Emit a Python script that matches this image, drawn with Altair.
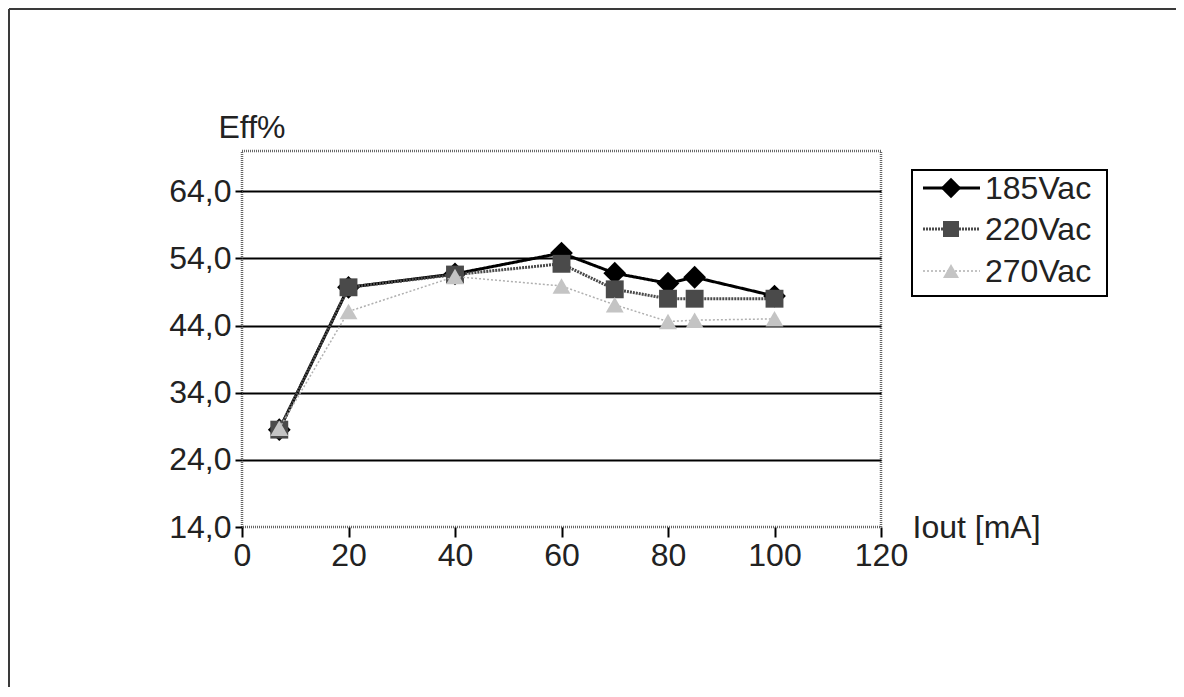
import altair as alt
import pandas as pd

# ---- data ----
iout = [7, 20, 40, 60, 70, 80, 85, 100]
eff_185 = [28.5, 49.7, 51.7, 54.8, 51.8, 50.3, 51.2, 48.4]
eff_220 = [28.5, 49.7, 51.6, 53.2, 49.4, 48.0, 48.0, 48.0]
eff_270 = [28.7, 46.1, 51.3, 49.9, 47.1, 44.6, 44.8, 45.0]
series = ["185Vac", "220Vac", "270Vac"]
y_ticks = [14, 24, 34, 44, 54, 64]
x_ticks = [0, 20, 40, 60, 80, 100, 120]

FONT = "Liberation Sans"
FS = 32

rows = []
for name, vals in zip(series, [eff_185, eff_220, eff_270]):
    for xv, yv in zip(iout, vals):
        rows.append({"series": name, "iout": xv, "eff": yv})
df = pd.DataFrame(rows)

styles = {
    "185Vac": dict(color="#000000", width=3, dash=[1, 0], shape="diamond", size=520, fill="#000000"),
    "220Vac": dict(color="#4a4a4a", width=3, dash=[2, 1], shape="square", size=320, fill="#4a4a4a"),
    "270Vac": dict(color="#b0b0b0", width=1.5, dash=[2, 2], shape="triangle-up", size=320, fill="#c4c4c4"),
}

xscale = alt.Scale(domain=[0, 120], nice=False, zero=False)
yscale = alt.Scale(domain=[14, 70], nice=False, zero=False)

xaxis = alt.Axis(values=x_ticks, grid=False, domain=False, ticks=True, tickSize=10,
                 tickColor="#000", tickWidth=2, labelFont=FONT, labelFontSize=FS,
                 labelColor="#222", labelPadding=3, labelFlush=False, labelOverlap=False,
                 title="Iout [mA]", titleFont=FONT,
                 titleFontSize=FS, titleFontWeight="normal", titleColor="#222",
                 titleAngle=0, titleAlign="left", titleBaseline="middle",
                 titleX=670, titleY=0)
yaxis = alt.Axis(values=y_ticks, grid=True, gridColor="#000", gridWidth=2,
                 gridOpacity={"expr": "datum.value == 14 ? 0 : 1"},
                 domain=False, ticks=True, tickSize=7, tickColor="#000", tickWidth=2,
                 labelFont=FONT, labelFontSize=FS, labelColor="#222", labelPadding=4,
                 labelFlush=False, labelOverlap=False,
                 labelExpr="replace(format(datum.value, '.1f'), '.', ',')",
                 title="Eff%", titleFont=FONT, titleFontSize=FS, titleFontWeight="normal",
                 titleColor="#222", titleAngle=0, titleAlign="left", titleBaseline="middle",
                 titleX=-24, titleY=-24)

enc_x = alt.X("iout:Q", scale=xscale, axis=xaxis)
enc_y = alt.Y("eff:Q", scale=yscale, axis=yaxis)

layers = []
for name in series:
    s = styles[name]
    base = alt.Chart(df).transform_filter(alt.datum.series == name)
    line = base.mark_line(color=s["color"], strokeWidth=s["width"], strokeDash=s["dash"]).encode(x=enc_x, y=enc_y)
    pts = base.mark_point(shape=s["shape"], size=s["size"], filled=True, fill=s["fill"],
                          color=s["fill"], opacity=1).encode(x=enc_x, y=enc_y)
    layers += [line, pts]

# ---- manual legend (box + line + marker + label) ----
leg_x0, leg_x1 = 670, 865   # relative to plot area left
leg_y0, leg_y1 = 19, 145    # relative to plot area top
row_y = [37, 78, 120]
leg_df = pd.DataFrame({"series": series})
box = alt.Chart(leg_df).transform_filter(alt.datum.series == series[0]).mark_rect(
    fill="white", stroke="#000", strokeWidth=2).encode(
    x=alt.value(leg_x0), x2=alt.value(leg_x1), y=alt.value(leg_y0), y2=alt.value(leg_y1))
layers.append(box)
for name, ry in zip(series, row_y):
    s = styles[name]
    b = alt.Chart(leg_df).transform_filter(alt.datum.series == name)
    layers.append(b.mark_rule(color=s["color"], strokeWidth=s["width"], strokeDash=s["dash"]).encode(
        x=alt.value(leg_x0 + 11), x2=alt.value(leg_x0 + 68), y=alt.value(ry)))
    layers.append(b.mark_point(shape=s["shape"], size=s["size"] * 0.8, filled=True, fill=s["fill"],
                               color=s["fill"], opacity=1).encode(
        x=alt.value(leg_x0 + 39), y=alt.value(ry)))
    layers.append(b.mark_text(font=FONT, fontSize=FS, color="#222", align="left",
                              baseline="middle").encode(
        text="series:N", x=alt.value(leg_x0 + 73), y=alt.value(ry + 1)))

# ---- outer chart frame (top and left edges visible) ----
frame_df = pd.DataFrame({"k": [0]})
layers.append(alt.Chart(frame_df).mark_rule(color="#3a3a3a", strokeWidth=2).encode(
    x=alt.value(-233), x2=alt.value(934), y=alt.value(-142)))
layers.append(alt.Chart(frame_df).mark_rule(color="#3a3a3a", strokeWidth=2).encode(
    x=alt.value(-233), y=alt.value(-142), y2=alt.value(540)))

chart = alt.layer(*layers).properties(
    width=639, height=376,
    padding={"left": 234, "top": 143, "right": 295, "bottom": 160},
    autosize=alt.AutoSizeParams(type="none"),
    background="white",
).configure_view(stroke="#666", strokeWidth=2.5, strokeDash=[1, 1])

chart.save("out.html", embed_options={"renderer": "svg", "actions": False})
